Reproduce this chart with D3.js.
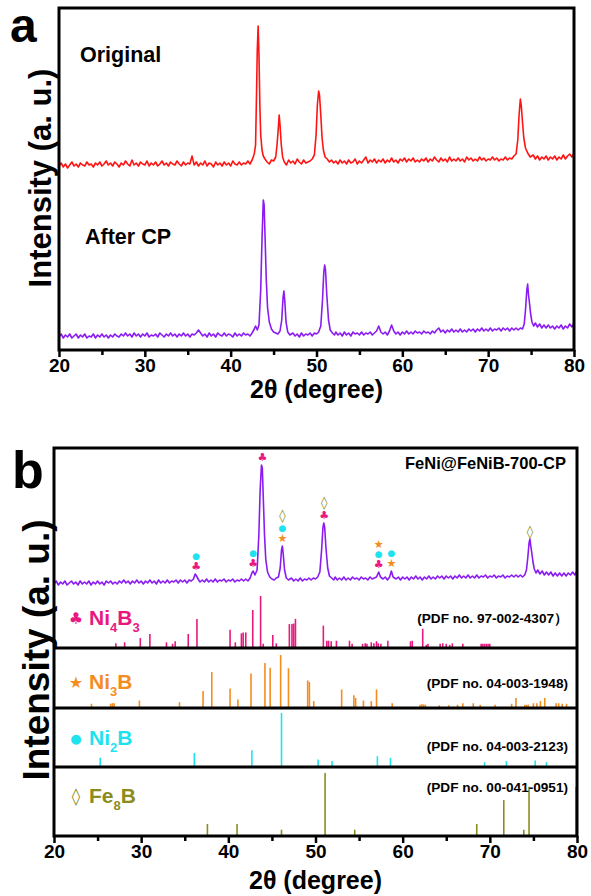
<!DOCTYPE html>
<html>
<head>
<meta charset="utf-8">
<script src="https://cdn.jsdelivr.net/npm/d3@7"></script>
<style>
body { margin: 0; background: #fff; }
text { font-family: "Liberation Sans", Arial, sans-serif; font-weight: bold; }
.sym { font-family: "DejaVu Sans", sans-serif; }
</style>
</head>
<body>
<script>
// ---- data (2θ, intensity in a.u.) ----
// panel a, "Original" (red)
const redA = [20,184, 20.25,187, 20.5,183, 20.75,186, 21,182, 21.25,185, 21.5,188, 21.75,184, 22,186, 22.25,183, 22.5,187, 22.75,185,
  23,184, 23.25,188, 23.5,185, 23.75,186, 24,183, 24.25,187, 24.5,185, 24.75,188, 25,184, 25.25,186, 25.5,189, 25.75,185,
  26,187, 26.25,184, 26.5,188, 26.75,186, 27,183, 27.25,187, 27.5,185, 27.75,189, 28,186, 28.25,184, 28.5,190, 28.75,185,
  29,187, 29.25,184, 29.5,188, 29.75,186, 30,185, 30.25,189, 30.5,184, 30.75,187, 31,185, 31.25,188, 31.5,184, 31.75,186,
  32,189, 32.25,185, 32.5,187, 32.75,184, 33,188, 33.25,186, 33.5,185, 33.75,189, 34,186, 34.25,184, 34.5,188, 34.75,185,
  35,187, 35.25,186, 35.5,194, 35.75,185, 36,188, 36.25,184, 36.5,187, 36.75,185, 37,189, 37.25,184, 37.5,187, 37.75,186,
  38,183, 38.25,188, 38.5,185, 38.75,187, 39,184, 39.25,188, 39.5,185, 39.75,187, 40,184, 40.25,189, 40.5,186, 40.75,185,
  41,188, 41.25,185, 41.5,187, 41.75,186, 42,189, 42.25,186, 42.5,190, 42.75,196, 42.9,205, 43.0,250, 43.1,300, 43.2,324,
  43.3,295, 43.4,245, 43.5,215, 43.65,200, 43.8,194, 44.0,191, 44.25,188, 44.5,186, 44.75,190, 45.0,189, 45.25,193, 45.4,205,
  45.55,222, 45.65,235, 45.75,225, 45.9,205, 46.05,193, 46.25,188, 46.5,185, 46.75,190, 47,187, 47.25,189, 47.5,186, 47.75,191,
  48,188, 48.25,186, 48.5,190, 48.75,187, 49,188, 49.25,189, 49.5,191, 49.75,195, 49.95,215, 50.1,245, 50.25,259, 50.35,255,
  50.5,235, 50.65,212, 50.8,200, 51,193, 51.25,191, 51.5,188, 51.75,190, 52,187, 52.25,189, 52.5,186, 52.75,190, 53,187,
  53.25,189, 53.5,186, 53.75,190, 54,187, 54.25,188, 54.5,191, 54.75,186, 55,189, 55.25,187, 55.5,190, 55.75,193, 56,187,
  56.25,190, 56.5,188, 56.75,191, 57,187, 57.25,190, 57.5,188, 57.75,191, 58,187, 58.25,190, 58.5,188, 58.75,192, 59,188,
  59.25,190, 59.5,187, 59.75,191, 60,189, 60.25,192, 60.5,188, 60.75,191, 61,189, 61.25,192, 61.5,188, 61.75,190, 62,188,
  62.25,191, 62.5,189, 62.75,192, 63,188, 63.25,191, 63.5,189, 63.75,193, 64,190, 64.25,188, 64.5,192, 64.75,189, 65,191,
  65.25,188, 65.5,193, 65.75,189, 66,191, 66.25,189, 66.5,192, 66.75,189, 67,191, 67.25,188, 67.5,193, 67.75,190, 68,192,
  68.25,189, 68.5,191, 68.75,189, 69,193, 69.25,190, 69.5,192, 69.75,189, 70,191, 70.25,190, 70.5,193, 70.75,190, 71,192,
  71.25,189, 71.5,191, 71.75,190, 72,193, 72.25,190, 72.5,192, 72.75,191, 73,194, 73.25,196, 73.45,210, 73.6,235, 73.75,251,
  73.85,245, 74.0,228, 74.15,212, 74.35,202, 74.6,197, 74.9,193, 75.25,195, 75.5,191, 75.75,194, 76,190, 76.25,193, 76.5,191,
  76.75,194, 77,190, 77.25,193, 77.5,191, 77.75,194, 78,190, 78.25,193, 78.5,191, 78.75,195, 79,191, 79.25,194, 79.5,196,
  79.75,193, 80,197];

// panel a, "After CP" (violet)
const violetA = [20,13, 20.25,16, 20.5,12, 20.75,15, 21,13, 21.25,16, 21.5,12, 21.75,14, 22,16, 22.25,12, 22.5,15, 22.75,13,
  23,16, 23.25,12, 23.5,14, 23.75,13, 24,16, 24.25,12, 24.5,15, 24.75,13, 25,16, 25.25,13, 25.5,15, 25.75,12, 26,15, 26.25,13,
  26.5,16, 26.75,14, 27,13, 27.25,16, 27.5,14, 27.75,17, 28,14, 28.25,16, 28.5,13, 28.75,17, 29,14, 29.25,16, 29.5,13, 29.75,16,
  30,14, 30.25,17, 30.5,13, 30.75,15, 31,14, 31.25,16, 31.5,13, 31.75,17, 32,15, 32.25,13, 32.5,16, 32.75,14, 33,17, 33.25,14,
  33.5,16, 33.75,13, 34,16, 34.25,14, 34.5,17, 34.75,14, 35,16, 35.25,13, 35.5,16, 35.75,15, 36,17, 36.25,20, 36.5,17, 36.75,14,
  37,16, 37.25,13, 37.5,17, 37.75,14, 38,16, 38.25,13, 38.5,17, 38.75,15, 39,14, 39.25,17, 39.5,14, 39.75,16, 40,15, 40.25,13,
  40.5,17, 40.75,14, 41,16, 41.25,14, 41.5,17, 41.75,15, 42,16, 42.25,14, 42.5,17, 42.75,21, 42.9,24, 43.1,20, 43.3,25, 43.5,60,
  43.65,110, 43.8,150, 43.9,145, 44.0,115, 44.15,70, 44.3,42, 44.5,28, 44.75,21, 45,18, 45.25,17, 45.5,16, 45.75,19, 45.95,30,
  46.1,52, 46.2,59, 46.3,50, 46.45,28, 46.65,18, 46.9,15, 47.25,17, 47.5,14, 47.75,16, 48,13, 48.25,17, 48.5,14, 48.75,16,
  49,15, 49.25,17, 49.5,14, 49.75,17, 50,16, 50.25,18, 50.5,24, 50.7,50, 50.85,78, 50.95,85, 51.05,80, 51.2,55, 51.4,30,
  51.6,20, 51.85,17, 52.1,15, 52.25,18, 52.5,15, 52.75,17, 53,14, 53.25,18, 53.5,15, 53.75,17, 54,14, 54.25,18, 54.5,16,
  54.75,17, 55,15, 55.25,18, 55.5,15, 55.75,17, 56,16, 56.25,18, 56.5,15, 56.75,17, 57,19, 57.25,24, 57.5,18, 57.75,16, 58,18,
  58.25,15, 58.5,19, 58.75,25, 59,19, 59.25,16, 59.5,18, 59.75,15, 60,18, 60.25,16, 60.5,19, 60.75,16, 61,18, 61.25,16,
  61.5,19, 61.75,17, 62,18, 62.25,16, 62.5,19, 62.75,17, 63,18, 63.25,16, 63.5,19, 63.75,17, 64,20, 64.25,22, 64.5,18,
  64.75,20, 65,17, 65.25,20, 65.5,18, 65.75,21, 66,18, 66.25,20, 66.5,18, 66.75,21, 67,18, 67.25,20, 67.5,18, 67.75,21,
  68,19, 68.25,21, 68.5,18, 68.75,21, 69,19, 69.25,22, 69.5,19, 69.75,21, 70,19, 70.25,22, 70.5,19, 70.75,21, 71,20, 71.25,22,
  71.5,19, 71.75,22, 72,20, 72.25,22, 72.5,19, 72.75,22, 73,20, 73.25,22, 73.5,20, 73.75,22, 74,21, 74.2,26, 74.35,40,
  74.5,60, 74.6,66, 74.7,55, 74.8,48, 74.95,36, 75.1,28, 75.3,24, 75.5,27, 75.75,23, 76,26, 76.25,22, 76.5,25, 76.75,22,
  77,25, 77.25,22, 77.5,24, 77.75,21, 78,24, 78.25,22, 78.5,25, 78.75,21, 79,24, 79.25,22, 79.5,26, 79.75,23, 80,27];

// panel b, FeNi@FeNiB-700-CP (violet)
const violetB = [20,6, 20.25,9, 20.5,5, 20.75,8, 21,6, 21.25,9, 21.5,5, 21.75,7, 22,9, 22.25,6, 22.5,8, 22.75,5, 23,9, 23.25,6,
  23.5,8, 23.75,6, 24,9, 24.25,5, 24.5,8, 24.75,6, 25,9, 25.25,6, 25.5,8, 25.75,5, 26,9, 26.25,7, 26.5,9, 26.75,6, 27,8, 27.25,6,
  27.5,9, 27.75,7, 28,10, 28.25,7, 28.5,9, 28.75,6, 29,9, 29.25,7, 29.5,10, 29.75,7, 30,9, 30.25,6, 30.5,9, 30.75,7, 31,10,
  31.25,7, 31.5,9, 31.75,6, 32,10, 32.25,7, 32.5,9, 32.75,7, 33,10, 33.25,7, 33.5,9, 33.75,8, 34,10, 34.25,7, 34.5,10, 34.75,8,
  35,10, 35.25,7, 35.5,10, 35.75,9, 36,11, 36.2,16, 36.35,14, 36.6,10, 36.75,8, 37,10, 37.25,8, 37.5,11, 37.75,8, 38,10,
  38.25,8, 38.5,11, 38.75,8, 39,10, 39.25,9, 39.5,11, 39.75,8, 40,10, 40.25,9, 40.5,11, 40.75,8, 41,10, 41.25,9, 41.5,11,
  41.75,9, 42,11, 42.25,9, 42.5,12, 42.7,17, 42.85,19, 43.05,15, 43.3,20, 43.5,55, 43.65,100, 43.8,125, 43.9,122, 44.0,95,
  44.15,55, 44.3,30, 44.5,18, 44.75,13, 45,11, 45.25,10, 45.5,12, 45.75,13, 45.95,22, 46.1,40, 46.2,44, 46.3,36, 46.45,20,
  46.65,12, 46.9,10, 47.25,12, 47.5,9, 47.75,11, 48,9, 48.25,12, 48.5,9, 48.75,11, 49,10, 49.25,12, 49.5,10, 49.75,12, 50,11,
  50.25,13, 50.5,18, 50.7,40, 50.85,62, 50.95,67, 51.05,63, 51.2,42, 51.4,22, 51.6,14, 51.85,12, 52.1,10, 52.25,13, 52.5,10,
  52.75,12, 53,10, 53.25,13, 53.5,10, 53.75,12, 54,10, 54.25,13, 54.5,11, 54.75,12, 55,10, 55.25,13, 55.5,11, 55.75,12, 56,10,
  56.25,13, 56.5,11, 56.75,12, 57,13, 57.25,18, 57.45,13, 57.75,11, 58,13, 58.25,10, 58.5,13, 58.7,19, 58.9,13, 59.25,11,
  59.5,13, 59.75,10, 60,13, 60.25,11, 60.5,13, 60.75,10, 61,13, 61.25,11, 61.5,14, 61.75,11, 62,13, 62.25,10, 62.5,13,
  62.75,11, 63,14, 63.25,11, 63.5,13, 63.75,11, 64,14, 64.25,12, 64.5,14, 64.75,11, 65,14, 65.25,12, 65.5,14, 65.75,11,
  66,14, 66.25,12, 66.5,15, 66.75,12, 67,14, 67.25,12, 67.5,15, 67.75,12, 68,14, 68.25,12, 68.5,15, 68.75,12, 69,14, 69.25,13,
  69.5,15, 69.75,12, 70,14, 70.25,13, 70.5,15, 70.75,12, 71,14, 71.25,13, 71.5,15, 71.75,12, 72,14, 72.25,13, 72.5,15,
  72.75,13, 73,15, 73.25,13, 73.5,15, 73.75,13, 74,15, 74.2,20, 74.35,32, 74.5,47, 74.6,51, 74.7,44, 74.8,38, 74.95,28,
  75.1,21, 75.3,17, 75.5,20, 75.75,16, 76,19, 76.25,15, 76.5,18, 76.75,15, 77,18, 77.25,14, 77.5,17, 77.75,14, 78,17,
  78.25,14, 78.5,17, 78.75,14, 79,17, 79.25,15, 79.5,18, 79.75,15, 80,19];

// reference patterns: positions (2θ) and relative intensities
const ni4b3Theta = [20.1, 27.1, 28.1, 29.9, 31.0, 32.9, 33.6, 33.9, 35.4, 36.4, 40.2, 40.8, 41.5, 41.7, 42.0, 42.8, 43.7, 44.0,
  45.1, 45.5, 47.0, 47.3, 47.5, 47.7, 50.9, 51.3, 51.5, 51.8, 52.4, 53.9, 54.2, 55.4, 55.7, 55.9, 56.4, 56.7, 57.0, 57.2, 57.5,
  58.3, 60.9, 61.1, 62.3, 62.7, 62.9, 64.3, 64.6, 65.0, 65.4, 65.7, 66.9, 69.0, 69.2, 69.4, 69.6, 69.8, 70.0];
const ni4b3Int = [6, 9, 11, 19, 27, 11, 8, 13, 27, 56, 35, 11, 28, 30, 30, 73, 100, 8,
  25, 9, 46, 46, 47, 56, 43, 14, 14, 13, 14, 14, 8, 8, 9, 8, 11, 9, 13, 9, 8,
  14, 13, 14, 37, 6, 8, 8, 9, 8, 6, 9, 8, 8, 8, 8, 8, 8, 8];

const ni3bTheta = [24.3, 26.5, 26.7, 26.9, 29.8, 34.4, 37.1, 38.1, 40.2, 41.1, 42.6, 44.2, 44.8, 46.0, 46.9, 49.1, 49.3, 49.8,
  53.0, 54.4, 54.6, 55.5, 56.4, 57.0, 58.8, 62.0, 62.2, 62.4, 62.6, 64.2, 65.3, 66.3, 66.9, 68.1, 68.9, 70.6, 72.5, 73.0,
  74.0, 74.2, 74.4, 75.0, 75.4, 75.8, 76.3, 77.6, 77.9, 78.3, 78.8];
const ni3bInt = [8, 8, 9, 9, 14, 11, 32, 68, 37, 16, 65, 85, 76, 100, 75, 52, 49, 13,
  35, 24, 19, 14, 13, 35, 9, 6, 7, 7, 6, 5, 5, 6, 9, 9, 6, 6, 8, 19,
  6, 6, 6, 9, 9, 13, 19, 9, 9, 8, 8];

const ni2bTheta = [25.3, 36.1, 42.7, 46.1, 50.3, 51.9, 57.1, 58.6, 69.4, 71.9, 75.2, 76.5];
const ni2bInt = [17, 26, 31, 100, 14, 11, 20, 17, 9, 11, 12, 9];

const fe8bTheta = [37.6, 41.0, 46.1, 51.1, 54.5, 68.5, 71.6, 73.9, 74.5, 79.9];
const fe8bInt = [19, 19, 10, 100, 10, 19, 57, 10, 78, 78];

// phase marks above the peaks of panel b (bottom to top)
const peakMarks = [
  [36.3, ["club", "dot"]],
  [42.85, ["club", "dot"]],
  [43.9, ["club"]],
  [46.2, ["star", "dot", "diamond"]],
  [51.0, ["club", "diamond"]],
  [57.25, ["club", "dot", "star"]],
  [58.7, ["star", "dot"]],
  [74.6, ["diamond"]]
];

const majorTicks = [20, 30, 40, 50, 60, 70, 80];
const minorTicks = [25, 35, 45, 55, 65, 75];

// ---- helpers ----
const pairs = (flat) => {
    const out = [];
    for (let i = 0; i < flat.length; i += 2) out.push([flat[i], flat[i + 1]]);
    return out;
}

const colors = {
    red: "#ff1414",
    violet: "#8a1cf2",
    club: "#e8187f",
    star: "#f58c1e",
    dot: "#1ee3ef",
    diamond: "#8c8c1c"
};
const glyph = { club: "\u2663", star: "\u2605", dot: "\u25CF", diamond: "\u25CA" };

const svg = d3.select("body").append("svg")
    .attr("width", 591)
    .attr("height", 896);

// draws a bottom axis with major + minor ticks and the title
const drawXAxis = (x, yPos, titleY) => {
    const major = svg.append("g").attr("transform", "translate(0," + yPos + ")")
        .call(d3.axisBottom(x).tickValues(majorTicks).tickSize(7).tickPadding(2).tickFormat(d3.format("d")));
    const minor = svg.append("g").attr("transform", "translate(0," + yPos + ")")
        .call(d3.axisBottom(x).tickValues(minorTicks).tickSize(5).tickFormat(""));
    [major, minor].forEach((g) => {
        g.selectAll(".domain").remove();
        g.selectAll("line").attr("stroke", "#000").attr("stroke-width", 2.5);
    });
    major.selectAll("text").attr("font-size", 19).attr("fill", "#000")
        .style("font-family", "'Liberation Sans', Arial, sans-serif").style("font-weight", "bold");
    svg.append("text")
        .attr("x", (x.range()[0] + x.range()[1]) / 2)
        .attr("y", titleY)
        .attr("text-anchor", "middle")
        .attr("font-size", 25)
        .text("2\u03B8 (degree)");
}

const yLabel = (cx, cy, size) => {
    svg.append("text")
        .attr("transform", "translate(" + cx + "," + cy + ") rotate(-90)")
        .attr("text-anchor", "middle")
        .attr("dominant-baseline", "central")
        .attr("font-size", size)
        .text("Intensity (a. u.)");
}

// ================= panel a =================
const boxA = { left: 59, right: 574, top: 8, bottom: 350 };
const xA = d3.scaleLinear().domain([20, 80]).range([boxA.left, boxA.right]);
const yA = d3.scaleLinear().domain([0, 342]).range([boxA.bottom, boxA.top]);

svg.append("clipPath").attr("id", "clipA").append("rect")
    .attr("x", boxA.left).attr("y", boxA.top)
    .attr("width", boxA.right - boxA.left).attr("height", boxA.bottom - boxA.top);

const lineA = d3.line().x(d => xA(d[0])).y(d => yA(d[1]));

svg.append("path").datum(pairs(redA))
    .attr("clip-path", "url(#clipA)")
    .attr("d", lineA).attr("fill", "none")
    .attr("stroke", colors.red).attr("stroke-width", 1.6).attr("stroke-linejoin", "round");

svg.append("path").datum(pairs(violetA))
    .attr("clip-path", "url(#clipA)")
    .attr("d", lineA).attr("fill", "none")
    .attr("stroke", colors.violet).attr("stroke-width", 1.6).attr("stroke-linejoin", "round");

svg.append("rect")
    .attr("x", boxA.left).attr("y", boxA.top)
    .attr("width", boxA.right - boxA.left).attr("height", boxA.bottom - boxA.top)
    .attr("fill", "none").attr("stroke", "#000").attr("stroke-width", 3);

svg.append("text").attr("x", 80).attr("y", 62).attr("font-size", 21.5).text("Original");
svg.append("text").attr("x", 85).attr("y", 244).attr("font-size", 21.5).text("After CP");
svg.append("text").attr("x", 10).attr("y", 42).attr("font-size", 48).text("a");

drawXAxis(xA, boxA.bottom, 398);
yLabel(40, 178, 31);

// ================= panel b =================
const boxB = { left: 54, right: 577, top: 448, bottom: 836 };
const xB = d3.scaleLinear().domain([20, 80]).range([boxB.left, boxB.right]);
const yB = d3.scaleLinear().domain([0, 142]).range([590, boxB.top]);

svg.append("clipPath").attr("id", "clipB").append("rect")
    .attr("x", boxB.left).attr("y", boxB.top)
    .attr("width", boxB.right - boxB.left).attr("height", boxB.bottom - boxB.top);

const lineB = d3.line().x(d => xB(d[0])).y(d => yB(d[1]));
const dataB = pairs(violetB);

svg.append("path").datum(dataB)
    .attr("clip-path", "url(#clipB)")
    .attr("d", lineB).attr("fill", "none")
    .attr("stroke", colors.violet).attr("stroke-width", 1.6).attr("stroke-linejoin", "round");

// marks above peaks
peakMarks.forEach(([theta, kinds]) => {
    const top = d3.max(dataB.filter(d => Math.abs(d[0] - theta) < 0.3), d => d[1]);
    let y = yB(top) - 8;
    kinds.forEach((k, i) => {
        if (k === "diamond" && i > 0) y -= 3;
        svg.append("text")
            .attr("class", "sym")
            .attr("x", xB(theta)).attr("y", y)
            .attr("text-anchor", "middle")
            .attr("dominant-baseline", "central")
            .attr("font-size", k === "diamond" ? 13 : k === "dot" ? 9 : 11)
            .attr("fill", colors[k])
            .text(glyph[k]);
        y -= 10;
    });
});

// stick patterns, one band each
const phases = [
    { kind: "club", el: [["Ni", "4"], ["B", "3"]], pdf: "(PDF no. 97-002-4307\uFF09", theta: ni4b3Theta, inten: ni4b3Int,
      base: 648, top: 596, labelY: 625, pdfY: 623 },
    { kind: "star", el: [["Ni", "3"], ["B", ""]], pdf: "(PDF no. 04-003-1948)", theta: ni3bTheta, inten: ni3bInt,
      base: 708, top: 655, labelY: 689, pdfY: 688 },
    { kind: "dot", el: [["Ni", "2"], ["B", ""]], pdf: "(PDF no. 04-003-2123)", theta: ni2bTheta, inten: ni2bInt,
      base: 767, top: 713, labelY: 745, pdfY: 751 },
    { kind: "diamond", el: [["Fe", "8"], ["B", ""]], pdf: "(PDF no. 00-041-0951)", theta: fe8bTheta, inten: fe8bInt,
      base: boxB.bottom, top: 773, labelY: 803, pdfY: 792 }
];

phases.forEach((p) => {
    const ys = d3.scaleLinear().domain([0, 100]).range([p.base, p.top]);
    svg.append("g")
        .selectAll("line")
        .data(d3.zip(p.theta, p.inten))
        .join("line")
        .attr("x1", d => xB(d[0])).attr("x2", d => xB(d[0]))
        .attr("y1", ys(0)).attr("y2", d => ys(d[1]))
        .attr("stroke", colors[p.kind]).attr("stroke-width", 1.6);

    if (p.base !== boxB.bottom) {
        svg.append("line")
            .attr("x1", boxB.left).attr("x2", boxB.right)
            .attr("y1", p.base).attr("y2", p.base)
            .attr("stroke", "#000").attr("stroke-width", 3);
    }

    svg.append("text")
        .attr("class", "sym")
        .attr("x", 76).attr("y", p.labelY - 7)
        .attr("text-anchor", "middle")
        .attr("dominant-baseline", "central")
        .attr("font-size", p.kind === "diamond" ? 17 : p.kind === "dot" ? 13 : 16)
        .attr("fill", colors[p.kind])
        .text(glyph[p.kind]);

    // formula with subscripts
    const t = svg.append("text")
        .attr("x", 89).attr("y", p.labelY)
        .attr("font-size", 21)
        .attr("fill", colors[p.kind]);
    let lowered = false;
    p.el.forEach(([sym, n]) => {
        t.append("tspan").attr("dy", lowered ? -7 : 0).text(sym);
        lowered = false;
        if (n) {
            t.append("tspan").attr("font-size", 13).attr("dy", 7).text(n);
            lowered = true;
        }
    });

    svg.append("text")
        .attr("x", 568).attr("y", p.pdfY)
        .attr("text-anchor", "end")
        .attr("font-size", 13.6)
        .text(p.pdf);
});

svg.append("rect")
    .attr("x", boxB.left).attr("y", boxB.top)
    .attr("width", boxB.right - boxB.left).attr("height", boxB.bottom - boxB.top)
    .attr("fill", "none").attr("stroke", "#000").attr("stroke-width", 3);

svg.append("text").attr("x", 566).attr("y", 469).attr("text-anchor", "end")
    .attr("font-size", 16.5).text("FeNi@FeNiB-700-CP");
svg.append("text").attr("x", 12).attr("y", 488).attr("font-size", 52).text("b");

drawXAxis(xB, boxB.bottom, 889);
yLabel(36, 650, 37);
</script>
</body>
</html>
